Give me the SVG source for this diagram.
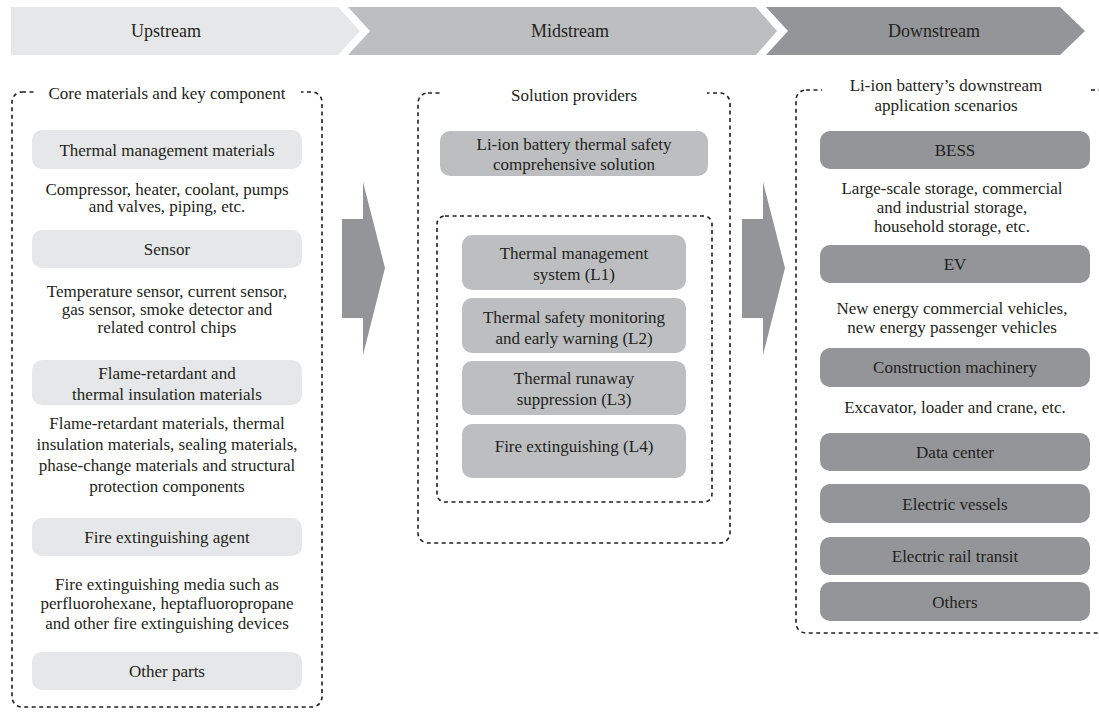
<svg xmlns="http://www.w3.org/2000/svg" width="1099" height="712" viewBox="0 0 1099 712">
<style>
.t{font-family:"Liberation Serif","Times New Roman",serif;font-size:17px;fill:#231f20;text-anchor:middle}
.h{font-size:18px}
.box{fill:none;stroke:#231f20;stroke-width:1.6;stroke-dasharray:4 3.5}
.gap{fill:#ffffff}
.p1{fill:#e6e7e8}
.p2{fill:#bcbec0}
.p3{fill:#939598}
</style>
<rect width="1099" height="712" fill="#ffffff"/>
<g id="header">
  <polygon class="p1" points="11,7 338,7 360,31 338,55 11,55"/>
  <polygon class="p2" points="348,7 756,7 777,31 756,55 348,55 370,31"/>
  <polygon class="p3" points="766,7 1060,7 1085,31 1060,55 766,55 788,31"/>
  <text class="t h" x="166" y="37">Upstream</text>
  <text class="t h" x="570" y="37">Midstream</text>
  <text class="t h" x="934" y="37">Downstream</text>
</g>
<g id="connectors">
  <polygon class="p3" points="342,219 363,219 363,182 385,268 363,355 363,318 342,318"/>
  <polygon class="p3" points="742,219 763,219 763,182 785,268 763,355 763,318 742,318"/>
</g>
<g id="upstream">
  <rect class="box" x="12" y="92" width="310" height="615" rx="10"/>
  <rect class="gap" x="36" y="84" width="265" height="17"/>
  <text class="t" x="167" y="99">Core materials and key component</text>
  <g id="thermal-management-materials">
    <rect class="p1" x="32" y="130" width="270" height="39" rx="10"/>
    <text class="t" x="167" y="156">Thermal management materials</text>
  </g>
  <text class="t" x="167" y="195">Compressor, heater, coolant, pumps</text>
  <text class="t" x="167" y="212">and valves, piping, etc.</text>
  <g id="sensor">
    <rect class="p1" x="32" y="230" width="270" height="38" rx="10"/>
    <text class="t" x="167" y="255">Sensor</text>
  </g>
  <text class="t" x="167" y="297">Temperature sensor, current sensor,</text>
  <text class="t" x="167" y="315">gas sensor, smoke detector and</text>
  <text class="t" x="167" y="333">related control chips</text>
  <g id="flame-retardant">
    <rect class="p1" x="32" y="360" width="270" height="45" rx="10"/>
    <text class="t" x="167" y="379">Flame-retardant and</text>
    <text class="t" x="167" y="400">thermal insulation materials</text>
  </g>
  <text class="t" x="167" y="429">Flame-retardant materials, thermal</text>
  <text class="t" x="167" y="450">insulation materials, sealing materials,</text>
  <text class="t" x="167" y="471">phase-change materials and structural</text>
  <text class="t" x="167" y="492">protection components</text>
  <g id="fire-extinguishing-agent">
    <rect class="p1" x="32" y="518" width="270" height="38" rx="10"/>
    <text class="t" x="167" y="543">Fire extinguishing agent</text>
  </g>
  <text class="t" x="167" y="590">Fire extinguishing media such as</text>
  <text class="t" x="167" y="609">perfluorohexane, heptafluoropropane</text>
  <text class="t" x="167" y="629">and other fire extinguishing devices</text>
  <g id="other-parts">
    <rect class="p1" x="32" y="652" width="270" height="38" rx="10"/>
    <text class="t" x="167" y="677">Other parts</text>
  </g>
</g>
<g id="midstream">
  <rect class="box" x="418" y="93" width="312" height="450" rx="10"/>
  <rect class="gap" x="441" y="85" width="266" height="17"/>
  <text class="t" x="574" y="101">Solution providers</text>
  <g id="comprehensive-solution">
    <rect class="p2" x="440" y="131" width="268" height="45" rx="10"/>
    <text class="t" x="574" y="150">Li-ion battery thermal safety</text>
    <text class="t" x="574" y="170">comprehensive solution</text>
  </g>
  <rect class="box" x="437" y="216" width="275" height="286" rx="8"/>
  <g id="L1">
    <rect class="p2" x="462" y="235" width="224" height="55" rx="10"/>
    <text class="t" x="574" y="259">Thermal management</text>
    <text class="t" x="574" y="280">system (L1)</text>
  </g>
  <g id="L2">
    <rect class="p2" x="462" y="298" width="224" height="55" rx="10"/>
    <text class="t" x="574" y="323">Thermal safety monitoring</text>
    <text class="t" x="574" y="344">and early warning (L2)</text>
  </g>
  <g id="L3">
    <rect class="p2" x="462" y="361" width="224" height="54" rx="10"/>
    <text class="t" x="574" y="384">Thermal runaway</text>
    <text class="t" x="574" y="405">suppression (L3)</text>
  </g>
  <g id="L4">
    <rect class="p2" x="462" y="424" width="224" height="54" rx="10"/>
    <text class="t" x="574" y="452">Fire extinguishing (L4)</text>
  </g>
</g>
<g id="downstream">
  <rect class="box" x="796" y="90" width="320" height="543" rx="10"/>
  <rect class="gap" x="822" y="80" width="266" height="18"/>
  <text class="t" x="946" y="91">Li-ion battery’s downstream</text>
  <text class="t" x="946" y="111">application scenarios</text>
  <g id="BESS">
    <rect class="p3" x="820" y="131" width="270" height="38" rx="10"/>
    <text class="t" x="955" y="156">BESS</text>
  </g>
  <text class="t" x="952" y="194">Large-scale storage, commercial</text>
  <text class="t" x="952" y="213">and industrial storage,</text>
  <text class="t" x="952" y="232">household storage, etc.</text>
  <g id="EV">
    <rect class="p3" x="820" y="245" width="270" height="38" rx="10"/>
    <text class="t" x="955" y="270">EV</text>
  </g>
  <text class="t" x="952" y="314">New energy commercial vehicles,</text>
  <text class="t" x="952" y="333">new energy passenger vehicles</text>
  <g id="construction-machinery">
    <rect class="p3" x="820" y="348" width="270" height="39" rx="10"/>
    <text class="t" x="955" y="373">Construction machinery</text>
  </g>
  <text class="t" x="955" y="413">Excavator, loader and crane, etc.</text>
  <g id="data-center">
    <rect class="p3" x="820" y="433" width="270" height="38" rx="10"/>
    <text class="t" x="955" y="458">Data center</text>
  </g>
  <g id="electric-vessels">
    <rect class="p3" x="820" y="484" width="270" height="39" rx="10"/>
    <text class="t" x="955" y="510">Electric vessels</text>
  </g>
  <g id="electric-rail-transit">
    <rect class="p3" x="820" y="537" width="270" height="38" rx="10"/>
    <text class="t" x="955" y="562">Electric rail transit</text>
  </g>
  <g id="others">
    <rect class="p3" x="820" y="582" width="270" height="39" rx="10"/>
    <text class="t" x="955" y="608">Others</text>
  </g>
</g>
</svg>
